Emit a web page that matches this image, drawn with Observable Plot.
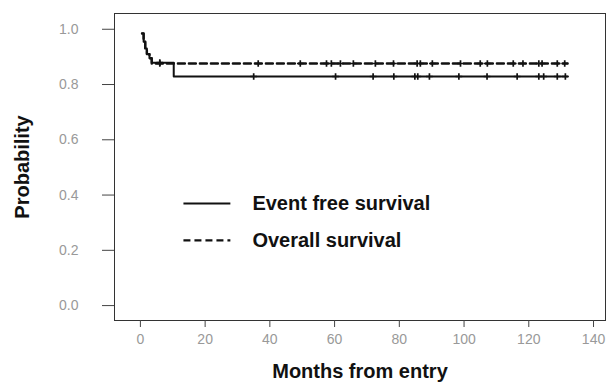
<!DOCTYPE html>
<html>
<head>
<meta charset="utf-8">
<script src="https://cdn.jsdelivr.net/npm/d3@7"></script>
<script src="https://cdn.jsdelivr.net/npm/@observablehq/plot@0.6"></script>
<style>
  html, body { margin: 0; padding: 0; background: #fff; }
  #chart { width: 606px; height: 383px; }
</style>
</head>
<body>
<div id="chart"></div>
<script>
// Kaplan–Meier step points (time in months, survival probability)
const efsTime = [0.5, 1.0, 1.5, 2.0, 2.8, 3.5, 10.3, 132];
const efsSurv = [0.985, 0.955, 0.93, 0.91, 0.895, 0.879, 0.829, 0.829];
const osTime  = [0.5, 1.0, 1.5, 2.0, 2.8, 3.5, 132];
const osSurv  = [0.985, 0.955, 0.93, 0.91, 0.895, 0.876, 0.876];

// Censoring times ("+" marks)
const efsCensor = [6.0, 35.0, 60.3, 71.9, 78.3, 84.8, 85.7, 89.3, 98.4, 107.1, 116.4, 123.1, 124.6, 128.8, 131.3];
const osCensor  = [6.0, 36.4, 49.4, 57.5, 59.0, 61.8, 65.8, 72.6, 78.2, 85.5, 86.5, 90.2, 98.9, 105.0, 107.2, 115.2, 118.2, 123.1, 124.1, 128.8, 131.1];

// Axis ticks
const xTicks = [0, 20, 40, 60, 80, 100, 120, 140];
const yTicks = [0, 0.2, 0.4, 0.6, 0.8, 1.0];

// Legend (inside plot, in data coordinates)
const legendLabels = ["Event free survival", "Overall survival"];
const legendY = [0.369, 0.236];
const legendX1 = 13.3, legendX2 = 27.8, legendTextX = 34.6;

const toRows = (t, s) => t.map((d, i) => ({time: d, surv: s[i]}));
const efs = toRows(efsTime, efsSurv);
const os = toRows(osTime, osSurv);
const stepAt = (t, times, surv) => {
  let v = surv[0];
  for (let i = 0; i < times.length; i++) if (times[i] <= t) v = surv[i];
  return v;
};
const efsC = efsCensor.map(t => ({time: t, surv: stepAt(t, efsTime, efsSurv)}));
const osC = osCensor.map(t => ({time: t, surv: stepAt(t, osTime, osSurv)}));

const font = "'Liberation Sans', Arial, Helvetica, sans-serif";

const chart = Plot.plot({
  width: 606,
  height: 383,
  marginLeft: 114,
  marginRight: 1,
  marginTop: 13,
  marginBottom: 63,
  style: {fontFamily: font, background: "#fff"},
  x: {domain: [-8.0, 143.7]},
  y: {domain: [-0.054, 1.057]},
  marks: [
    Plot.frame({stroke: "#333", strokeWidth: 1}),
    Plot.axisY({ticks: yTicks, tickFormat: d3.format(".1f"), tickSize: 12, tickPadding: 24,
                fontSize: 14, stroke: "#444", fill: "#999", label: null}),
    Plot.axisX({ticks: xTicks, tickFormat: d3.format("d"), tickSize: 7, tickPadding: 7,
                fontSize: 14, stroke: "#444", fill: "#999", label: null}),
    Plot.line(efs, {x: "time", y: "surv", curve: "step-after", stroke: "#111", strokeWidth: 2}),
    Plot.line(os, {x: "time", y: "surv", curve: "step-after", stroke: "#111", strokeWidth: 2.4, strokeDasharray: "7,4"}),
    Plot.dot(efsC, {x: "time", y: "surv", symbol: "plus", r: 2.3, stroke: "#111", strokeWidth: 1.7}),
    Plot.dot(osC, {x: "time", y: "surv", symbol: "plus", r: 2.3, stroke: "#111", strokeWidth: 1.7}),
    // legend
    Plot.link([legendY[0]], {x1: () => legendX1, x2: () => legendX2, y1: d => d, y2: d => d, stroke: "#111", strokeWidth: 2}),
    Plot.link([legendY[1]], {x1: () => legendX1, x2: () => legendX2, y1: d => d, y2: d => d, stroke: "#111", strokeWidth: 2.4, strokeDasharray: "7,4"}),
    Plot.text(legendLabels, {x: () => legendTextX, y: (d, i) => legendY[i], text: d => d, textAnchor: "start",
                             fontSize: 20, fontWeight: "bold", fill: "#111"}),
    // axis titles
    Plot.text(["Probability"], {frameAnchor: "left", text: d => d, rotate: -90, dx: -91.5,
                                textAnchor: "middle", lineAnchor: "middle", fontSize: 20, fontWeight: "bold", fill: "#111"}),
    Plot.text(["Months from entry"], {frameAnchor: "bottom", text: d => d, dy: 51,
                                      textAnchor: "middle", lineAnchor: "middle", fontSize: 20, fontWeight: "bold", fill: "#111"})
  ]
});
document.getElementById("chart").appendChild(chart);
</script>
</body>
</html>
